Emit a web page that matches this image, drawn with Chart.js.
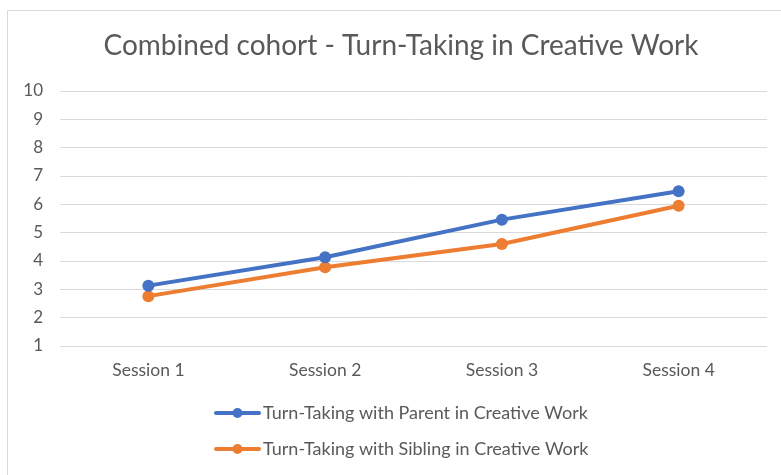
<!DOCTYPE html>
<html>
<head>
<meta charset="utf-8">
<script src="https://cdn.jsdelivr.net/npm/chart.js@4.4.1/dist/chart.umd.min.js"></script>
<style>
  html, body { margin: 0; padding: 0; background: #ffffff; }
  #wrap { width: 781px; height: 475px; position: relative; }
</style>
</head>
<body>
<div id="wrap"><canvas id="chart" width="781" height="475"></canvas></div>
<script>
// Session labels along the x axis
const sessions = ['Session 1', 'Session 2', 'Session 3', 'Session 4'];
// Mean turn-taking score per session
const parentTurns = [3.13, 4.13, 5.46, 6.46];
const siblingTurns = [2.76, 3.78, 4.60, 5.95];
// Value axis range and step
const yMin = 1;
const yMax = 10;
const yStep = 1;
const chartTitle = 'Combined cohort - Turn-Taking in Creative Work';
const seriesNames = [
  'Turn-Taking with Parent in Creative Work',
  'Turn-Taking with Sibling in Creative Work'
];

const FONT = 'Lato, "Open Sans", sans-serif';
const TEXT = '#595959';
const GRID = '#D9D9D9';
const BLUE = '#4472C4';
const ORANGE = '#ED7D31';

// Outer frame, title and a stacked legend drawn on the canvas
const frameTitleLegend = {
  id: 'frameTitleLegend',
  beforeDraw(chart) {
    const ctx = chart.ctx;
    ctx.save();
    ctx.strokeStyle = GRID;
    ctx.lineWidth = 1;
    ctx.strokeRect(7.5, 10.5, 800, 500);
    ctx.restore();
  },
  afterDraw(chart) {
    const ctx = chart.ctx;
    ctx.save();
    ctx.fillStyle = TEXT;
    ctx.font = '28px ' + FONT;
    ctx.textAlign = 'center';
    ctx.textBaseline = 'middle';
    ctx.fillText(chartTitle, 401, 46);

    chart.data.datasets.forEach((ds, i) => {
      const y = 413 + i * 36;
      ctx.strokeStyle = ds.borderColor;
      ctx.lineWidth = 4;
      ctx.lineCap = 'round';
      ctx.beginPath();
      ctx.moveTo(216, y);
      ctx.lineTo(259, y);
      ctx.stroke();
      ctx.fillStyle = ds.borderColor;
      ctx.beginPath();
      ctx.arc(237.5, y, 5, 0, Math.PI * 2);
      ctx.fill();
      ctx.fillStyle = TEXT;
      ctx.font = '18px ' + FONT;
      ctx.textAlign = 'left';
      ctx.fillText(ds.label, 263, y);
    });
    ctx.restore();
  }
};

new Chart(document.getElementById('chart'), {
  type: 'line',
  data: {
    labels: sessions,
    datasets: [
      {
        label: seriesNames[0],
        data: parentTurns,
        borderColor: BLUE,
        backgroundColor: BLUE,
        pointBackgroundColor: BLUE,
        pointBorderColor: BLUE,
        borderWidth: 4,
        pointRadius: 6,
        pointBorderWidth: 0,
        borderCapStyle: 'round',
        borderJoinStyle: 'round',
        tension: 0
      },
      {
        label: seriesNames[1],
        data: siblingTurns,
        borderColor: ORANGE,
        backgroundColor: ORANGE,
        pointBackgroundColor: ORANGE,
        pointBorderColor: ORANGE,
        borderWidth: 4,
        pointRadius: 6,
        pointBorderWidth: 0,
        borderCapStyle: 'round',
        borderJoinStyle: 'round',
        tension: 0
      }
    ]
  },
  options: {
    responsive: false,
    devicePixelRatio: 1,
    animation: false,
    layout: { padding: { top: 91, right: 14, bottom: 0, left: 0 } },
    plugins: {
      legend: { display: false },
      title: { display: false },
      tooltip: { enabled: false }
    },
    scales: {
      x: {
        offset: true,
        grid: { display: false },
        border: { display: false },
        ticks: { color: TEXT, font: { family: FONT, size: 17.5 }, padding: 6 },
        afterFit(scale) { scale.height = 129; }
      },
      y: {
        min: yMin,
        max: yMax,
        ticks: { stepSize: yStep, color: TEXT, font: { family: FONT, size: 17 }, padding: 17 },
        grid: { color: GRID, lineWidth: 1, drawTicks: false },
        border: { display: false },
        afterFit(scale) { scale.width = 60; }
      }
    }
  },
  plugins: [frameTitleLegend]
});
</script>
</body>
</html>
